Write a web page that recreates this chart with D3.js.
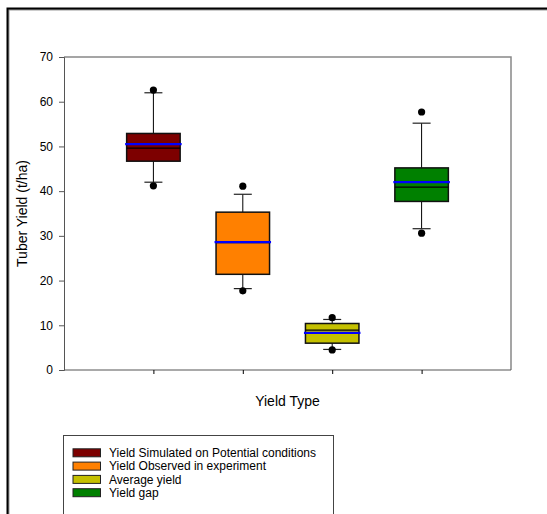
<!DOCTYPE html>
<html><head><meta charset="utf-8">
<script src="https://cdn.jsdelivr.net/npm/d3@7"></script>
<style>body{margin:0;background:#fff}svg{display:block}text{font-family:"Liberation Sans",Arial,sans-serif;fill:#000}</style>
</head><body><svg id="c" width="547" height="514"></svg>
<script>
const categories = ["Yield Simulated on Potential conditions","Yield Observed in experiment","Average yield","Yield gap"];
const colors = ["#7d0000","#ff8000","#c4c000","#008000"];
const q1 = [46.7, 21.4, 6.0, 37.7];
const q3 = [52.9, 35.3, 10.4, 45.2];
const median = [49.6, 28.5, 8.9, 40.9];
const mean = [50.5, 28.6, 8.3, 42.0];
const whiskerLow = [42.0, 18.2, 4.6, 31.6];
const whiskerHigh = [62.0, 39.3, 11.3, 55.2];
const outlierLow = [41.2, 17.7, 4.5, 30.6];
const outlierHigh = [62.6, 41.1, 11.7, 57.7];
const yTicks = [0,10,20,30,40,50,60,70];

const svg = d3.select("#c");
// outer frame
svg.append("rect").attr("x",8.5).attr("y",9.5).attr("width",560).attr("height",520).attr("fill","none").attr("stroke","#999").attr("stroke-width",2);
svg.append("rect").attr("x",7.5).attr("y",8.5).attr("width",560).attr("height",520).attr("fill","none").attr("stroke","#000").attr("stroke-width",2);

const L=64,R=511,T=57,B=370;
const x = d3.scalePoint().domain(categories).range([L,R]).padding(1);
const y = d3.scaleLinear().domain([0,70]).range([B,T]);
const bw = 53.5, cw = 18;

// frame
svg.append("path").attr("d",`M${L},${T}H${R}V${B}`).attr("fill","none").attr("stroke","#888").attr("stroke-width",1.5);

const ya = svg.append("g").attr("transform",`translate(${L},0)`).call(d3.axisLeft(y).tickValues(yTicks).tickSize(5).tickPadding(6));
ya.select(".domain").attr("stroke","#555");
ya.selectAll(".tick line").attr("stroke","#555");
ya.selectAll("text").attr("font-size",12).attr("font-family","Liberation Sans, Arial, sans-serif").attr("fill","#222");
const xa = svg.append("g").attr("transform",`translate(0,${B})`).call(d3.axisBottom(x).tickSize(4).tickFormat(""));
xa.select(".domain").attr("d",`M${L},0H${R}`).attr("stroke","#555");
xa.selectAll(".tick line").attr("stroke","#000");

const idx = d3.range(categories.length);
const g = svg.append("g");
idx.forEach(i=>{
  const cx = x(categories[i]);
  // whiskers
  g.append("line").attr("x1",cx).attr("x2",cx).attr("y1",y(q3[i])).attr("y2",y(whiskerHigh[i])).attr("stroke","#000");
  g.append("line").attr("x1",cx).attr("x2",cx).attr("y1",y(q1[i])).attr("y2",y(whiskerLow[i])).attr("stroke","#000");
  [whiskerHigh[i],whiskerLow[i]].forEach(v=>{
    g.append("line").attr("x1",cx-cw/2).attr("x2",cx+cw/2).attr("y1",y(v)).attr("y2",y(v)).attr("stroke","#222").attr("stroke-width",1.2);
  });
  // box
  g.append("rect").attr("x",cx-bw/2).attr("y",y(q3[i])).attr("width",bw).attr("height",y(q1[i])-y(q3[i]))
    .attr("fill",colors[i]).attr("stroke","#111").attr("stroke-width",1.5);
  g.append("line").attr("x1",cx-bw/2).attr("x2",cx+bw/2).attr("y1",y(median[i])).attr("y2",y(median[i])).attr("stroke","#000").attr("stroke-width",1.2);
  g.append("line").attr("x1",cx-bw/2-1.5).attr("x2",cx+bw/2+1.5).attr("y1",y(mean[i])).attr("y2",y(mean[i])).attr("stroke","#0000ff").attr("stroke-width",2.2);
  [outlierHigh[i],outlierLow[i]].forEach(v=>{
    g.append("circle").attr("cx",cx).attr("cy",y(v)).attr("r",3.6).attr("fill","#000");
  });
});

// axis titles
svg.append("text").attr("x",(L+R)/2).attr("y",406).attr("text-anchor","middle").attr("font-size",14).attr("fill","#111").text("Yield Type");
svg.append("text").attr("transform",`translate(27,${(T+B)/2}) rotate(-90)`).attr("text-anchor","middle").attr("font-size",14).attr("fill","#111").text("Tuber Yield (t/ha)");

// legend
svg.append("rect").attr("x",63.5).attr("y",435.5).attr("width",270).attr("height",100).attr("fill","#fff").attr("stroke","#444").attr("stroke-width",1);
const lg = svg.append("g");
idx.forEach(i=>{
  const yy = 452.8 + i*13.3;
  lg.append("rect").attr("x",73).attr("y",yy-4).attr("width",27.5).attr("height",8).attr("fill",colors[i]).attr("stroke","#222").attr("stroke-width",1);
  lg.append("text").attr("x",109).attr("y",yy+4.3).attr("font-size",12).attr("fill","#111").text(categories[i]);
});
</script></body></html>
